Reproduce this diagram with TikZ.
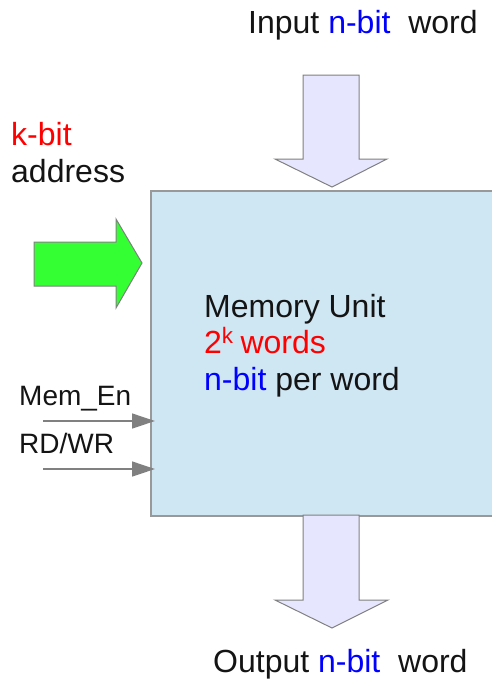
\documentclass[tikz,border=0pt]{standalone}
\usepackage{fontspec}
\setmainfont{Liberation Sans}
\usetikzlibrary{arrows.meta,positioning,calc}
\definecolor{memblue}{RGB}{207,230,243}
\definecolor{flowlav}{RGB}{230,230,255}
\definecolor{addrgreen}{RGB}{51,255,51}
\definecolor{edgegray}{RGB}{128,128,128}
\definecolor{txtblk}{RGB}{20,20,20}
\tikzset{
  lbl/.style={anchor=base west,inner sep=0pt,font=\fontsize{32}{38}\selectfont,text=txtblk},
  sml/.style={lbl,font=\fontsize{28}{33}\selectfont},
  blockarr/.style={draw=edgegray,line width=1pt,fill=flowlav,line join=miter},
  ctrl/.style={-{Triangle[length=23pt,width=15pt]},draw=edgegray,line width=1.3pt},
}
\newcommand{\kred}[1]{\textcolor{red}{#1}}
\newcommand{\nblue}[1]{\textcolor{blue}{#1}}

\begin{document}
\begin{tikzpicture}[x=1pt,y=-1pt]
  \clip (0,0) rectangle (492,680);
  % memory block (runs past the right edge)
  \node[draw=edgegray!80,line width=1.5pt,fill=memblue,inner sep=0pt,
        minimum width=360pt,minimum height=325pt,anchor=north west] (mem) at (150,190) {};
  \node[lbl] (memname) at (204,317) {Memory Unit};
  \node[lbl] (memsize) at (204,353) {\kred{2\textsuperscript{k}\kern-2pt\ words}};
  \node[lbl] (memwidth) at (204,390) {\nblue{n-bit} per word};

  % data in / data out
  \draw[blockarr] (303,75) -- (359,75) -- (359,159) -- (387,159) -- (332,187)
                  -- (275,159) -- (303,159) -- cycle;
  \draw[blockarr] (303,515) -- (359,515) -- (359,600) -- (388,600) -- (332,628)
                  -- (275,600) -- (303,600) -- cycle;
  \node[lbl] (inword) at (248,33) {Input \nblue{n-bit}\ \ word};
  \node[lbl] (outword) at (213,672) {Output \nblue{n-bit}\ \ word};

  % address
  \draw[blockarr,fill=addrgreen] (34,242) -- (116,242) -- (116,219) -- (142,263)
                  -- (116,308) -- (116,286) -- (34,286) -- cycle;
  \node[lbl] (addrk) at (11,145) {\kred{k-bit}};
  \node[lbl] (addr) at (11,182) {address};

  % control lines
  \node[sml] (memen) at (19,405) {Mem\_En};
  \node[sml] (rdwr) at (19,453) {RD/WR};
  \coordinate (enin) at (43,421);
  \coordinate (rwin) at (43,469);
  \draw[ctrl] (enin) -- ([xshift=5pt]enin -| mem.west);
  \draw[ctrl] (rwin) -- ([xshift=5pt]rwin -| mem.west);
\end{tikzpicture}
\end{document}
